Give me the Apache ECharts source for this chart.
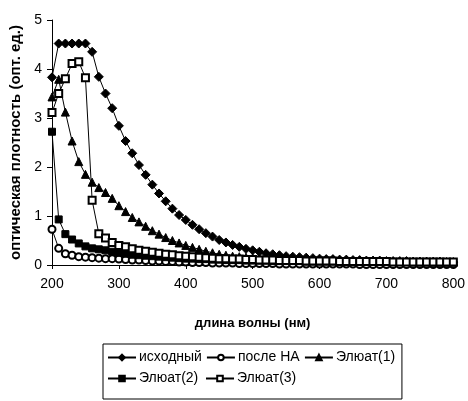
<!DOCTYPE html>
<html>
<head>
<meta charset="utf-8">
<script src="https://cdn.jsdelivr.net/npm/echarts@6/dist/echarts.min.js"></script>
<style>
    html, body { margin: 0; padding: 0; background: #fff; }
    #spectra-chart { width: 468px; height: 401px; }
</style>
</head>
<body>
<div id="spectra-chart"></div>
<script>
// длины волн, нм
const wavelengths = [
    200, 210, 220, 230, 240, 250, 260, 270, 280, 290,
    300, 310, 320, 330, 340, 350, 360, 370, 380, 390,
    400, 410, 420, 430, 440, 450, 460, 470, 480, 490,
    500, 510, 520, 530, 540, 550, 560, 570, 580, 590,
    600, 610, 620, 630, 640, 650, 660, 670, 680, 690,
    700, 710, 720, 730, 740, 750, 760, 770, 780, 790,
    800
];

// исходный
const initialValues = [
    3.83, 4.52, 4.52, 4.52, 4.52, 4.52, 4.35, 3.84, 3.50, 3.20,
    2.84, 2.53, 2.28, 2.04, 1.84, 1.64, 1.46, 1.30, 1.15, 1.02,
    0.92, 0.82, 0.73, 0.65, 0.58, 0.51, 0.46, 0.41, 0.37, 0.33,
    0.30, 0.27, 0.24, 0.22, 0.20, 0.18, 0.17, 0.16, 0.15, 0.14,
    0.13, 0.12, 0.12, 0.11, 0.11, 0.10, 0.10, 0.09, 0.09, 0.09,
    0.08, 0.08, 0.08, 0.08, 0.07, 0.07, 0.07, 0.07, 0.07, 0.06,
    0.06
];

// после НА
const afterNaValues = [
    0.73, 0.34, 0.23, 0.20, 0.17, 0.16, 0.15, 0.14, 0.13, 0.13,
    0.12, 0.11, 0.10, 0.10, 0.09, 0.08, 0.08, 0.07, 0.07, 0.06,
    0.06, 0.05, 0.05, 0.05, 0.04, 0.04, 0.04, 0.04, 0.03, 0.03,
    0.03, 0.03, 0.03, 0.03, 0.02, 0.02, 0.02, 0.02, 0.02, 0.02,
    0.02, 0.02, 0.02, 0.02, 0.02, 0.02, 0.01, 0.01, 0.01, 0.01,
    0.01, 0.01, 0.01, 0.01, 0.01, 0.01, 0.01, 0.01, 0.01, 0.01,
    0.01
];

// Элюат(1)
const eluate1Values = [
    3.43, 3.79, 3.12, 2.53, 2.11, 1.85, 1.69, 1.58, 1.48, 1.36,
    1.21, 1.09, 0.97, 0.88, 0.79, 0.70, 0.63, 0.56, 0.50, 0.45,
    0.40, 0.36, 0.32, 0.28, 0.25, 0.22, 0.20, 0.18, 0.17, 0.16,
    0.15, 0.14, 0.13, 0.12, 0.12, 0.11, 0.11, 0.10, 0.10, 0.10,
    0.09, 0.09, 0.09, 0.09, 0.08, 0.08, 0.08, 0.08, 0.08, 0.08,
    0.07, 0.07, 0.07, 0.07, 0.07, 0.07, 0.07, 0.06, 0.06, 0.06,
    0.06
];

// Элюат(2)
const eluate2Values = [
    2.72, 0.93, 0.63, 0.52, 0.44, 0.38, 0.34, 0.32, 0.30, 0.27,
    0.25, 0.23, 0.21, 0.20, 0.19, 0.18, 0.17, 0.16, 0.15, 0.14,
    0.13, 0.13, 0.12, 0.12, 0.11, 0.11, 0.10, 0.10, 0.10, 0.09,
    0.09, 0.09, 0.09, 0.08, 0.08, 0.08, 0.08, 0.08, 0.07, 0.07,
    0.07, 0.07, 0.07, 0.07, 0.07, 0.06, 0.06, 0.06, 0.06, 0.06,
    0.06, 0.06, 0.06, 0.06, 0.05, 0.05, 0.05, 0.05, 0.05, 0.05,
    0.05
];

// Элюат(3)
const eluate3Values = [
    3.11, 3.50, 3.80, 4.11, 4.15, 3.82, 1.32, 0.64, 0.55, 0.46,
    0.40, 0.37, 0.33, 0.30, 0.28, 0.26, 0.24, 0.22, 0.21, 0.19,
    0.18, 0.17, 0.16, 0.15, 0.14, 0.13, 0.13, 0.12, 0.12, 0.11,
    0.11, 0.10, 0.10, 0.10, 0.09, 0.09, 0.09, 0.09, 0.08, 0.08,
    0.08, 0.08, 0.08, 0.07, 0.07, 0.07, 0.07, 0.07, 0.07, 0.07,
    0.07, 0.06, 0.06, 0.06, 0.06, 0.06, 0.06, 0.06, 0.06, 0.06,
    0.06
];

const seriesNames = ['исходный', 'после НА', 'Элюат(1)', 'Элюат(2)', 'Элюат(3)'];
const xTicks = { min: 200, max: 800, step: 100 };
const yTicks = { min: 0, max: 5, step: 1 };

const FONT = '"Liberation Sans", Arial, sans-serif';

document.addEventListener('DOMContentLoaded', () => {
    initSpectraChart();
});

// собрать пары [x, y]
function toPoints(values) {
    return values.map((v, i) => [wavelengths[i], v]);
}

function makeSeries(name, values, symbol, size) {
    return {
        name: name,
        type: 'line',
        data: toPoints(values),
        symbol: symbol,
        symbolSize: size,
        showSymbol: true,
        showAllSymbol: true,
        animation: false,
        lineStyle: { color: '#000', width: 1 },
        itemStyle: { color: '#000', borderColor: '#000', borderWidth: 1 },
        emphasis: { disabled: true }
    };
}

function initSpectraChart() {
    const chart = echarts.init(document.getElementById('spectra-chart'));

    const option = {
        backgroundColor: '#fff',
        textStyle: { fontFamily: FONT },
        grid: {
            left: 51,
            right: 12,
            top: 20,
            bottom: 136
        },
        legend: {
            data: seriesNames,
            left: 103,
            top: 344,
            width: 300,
            padding: [5, 4, 12, 4],
            itemGap: 4,
            itemWidth: 28,
            itemHeight: 7,
            borderColor: '#000',
            borderWidth: 1,
            textStyle: {
                fontFamily: FONT,
                fontSize: 14,
                color: '#000',
                width: 62,
                lineHeight: 17,
                padding: [0, 0, 0, -2]
            }
        },
        xAxis: {
            type: 'value',
            min: xTicks.min,
            max: xTicks.max,
            interval: xTicks.step,
            name: 'длина волны (нм)',
            nameLocation: 'middle',
            nameGap: 52,
            nameTextStyle: {
                fontFamily: FONT,
                fontSize: 13,
                fontWeight: 'bold',
                color: '#000'
            },
            axisLine: { lineStyle: { color: '#000', width: 1 } },
            axisTick: { show: true, length: 4, lineStyle: { color: '#000' } },
            axisLabel: {
                fontFamily: FONT,
                fontSize: 14,
                color: '#000',
                margin: 12
            },
            splitLine: { show: false }
        },
        yAxis: {
            type: 'value',
            min: yTicks.min,
            max: yTicks.max,
            interval: yTicks.step,
            name: 'оптическая плотность (опт. ед.)',
            nameLocation: 'middle',
            nameGap: 29,
            nameTextStyle: {
                fontFamily: FONT,
                fontSize: 15,
                fontWeight: 'bold',
                color: '#000'
            },
            axisLine: { show: true, lineStyle: { color: '#000', width: 1 } },
            axisTick: { show: true, length: 5, lineStyle: { color: '#000' } },
            axisLabel: {
                fontFamily: FONT,
                fontSize: 14,
                color: '#000',
                margin: 10
            },
            splitLine: { show: false }
        },
        series: [
            makeSeries(seriesNames[0], initialValues, 'diamond', 9),
            makeSeries(seriesNames[1], afterNaValues, 'emptyCircle', 7),
            makeSeries(seriesNames[2], eluate1Values, 'triangle', 8),
            makeSeries(seriesNames[3], eluate2Values, 'rect', 7),
            makeSeries(seriesNames[4], eluate3Values, 'emptyRect', 7)
        ]
    };

    chart.setOption(option);
    window.addEventListener('resize', () => chart.resize());
}
</script>
</body>
</html>
